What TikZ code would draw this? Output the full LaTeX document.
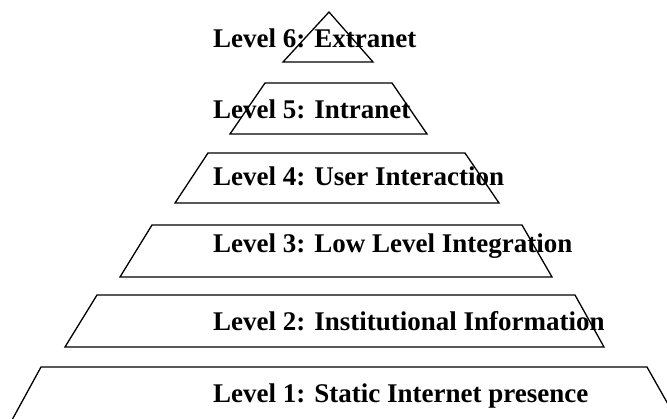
\documentclass[tikz,border=0pt]{standalone}
\usepackage{fontspec}
\setmainfont{Liberation Serif}
\begin{document}
\begin{tikzpicture}[x=1pt,y=-1pt,
  tier/.style={draw=black,line width=1.3pt,line join=miter},
  lbl/.style={anchor=base west,inner sep=0pt,font=\fontsize{27}{32}\selectfont\bfseries}]
\useasboundingbox (0,0) rectangle (667,418);
\clip (0,0) rectangle (667,418);
% tiers
\draw[tier] (283,62) -- (329,12) -- (373,62) -- cycle;
\draw[tier] (230,134) -- (265,83) -- (392,83) -- (427,134) -- cycle;
\draw[tier] (175,203) -- (208,153) -- (465,153) -- (499,203) -- cycle;
\draw[tier] (120,277) -- (152,225) -- (522,225) -- (552,277) -- cycle;
\draw[tier] (65,347) -- (97,295) -- (575,295) -- (604,347) -- cycle;
\draw[tier] (12,420) -- (41,367) -- (647,367) -- (677,420);
% labels
\node[lbl] (l6) at (213,47) {Level 6: Extranet};
\node[lbl] (l5) at (213,118) {Level 5: Intranet};
\node[lbl] (l4) at (213,185) {Level 4: User Interaction};
\node[lbl] (l3) at (213,252) {Level 3: Low Level Integration};
\node[lbl] (l2) at (213,330) {Level 2: Institutional Information};
\node[lbl] (l1) at (213,402) {Level 1: Static Internet presence};
\end{tikzpicture}
\end{document}
